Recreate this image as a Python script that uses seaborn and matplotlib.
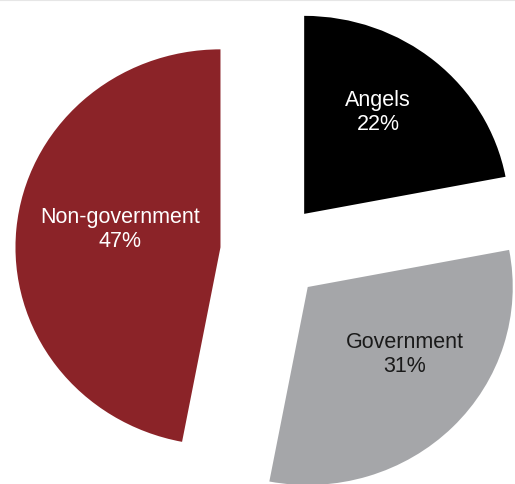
import numpy as np
import matplotlib
matplotlib.use("Agg")
import matplotlib.pyplot as plt
from matplotlib.lines import Line2D
import seaborn as sns

# Funding sources (share of total, %)
categories = ["Angels", "Government", "Non-government"]
shares = [22, 31, 47]

colors = ["#000000", "#a5a6a9", "#8b2328"]
text_colors = ["white", "#1a1a1a", "white"]

# label placement relative to each exploded wedge: radius fraction, angle turn (deg)
label_dist = [0.63, 0.58, 0.50]
label_turn = [4.6, 9.8, -5.6]

sns.set_theme(style="white")
plt.rcParams["font.family"] = ["Liberation Sans", "DejaVu Sans"]

W, H, DPI = 515, 485, 100
fig = plt.figure(figsize=(W / DPI, H / DPI), dpi=DPI)
ax = fig.add_axes([0, 0, 1, 1])

labels = [f"{c}\n{v}%" for c, v in zip(categories, shares)]
wedges, texts = ax.pie(
    shares,
    labels=labels,
    colors=colors,
    startangle=90,
    counterclock=False,
    explode=[0.25] * len(shares),
    radius=1.0,
    labeldistance=0.6,
    wedgeprops=dict(linewidth=0),
    textprops=dict(fontsize=15.5),
)

for w, t, d, da, tc in zip(wedges, texts, label_dist, label_turn, text_colors):
    ang = np.deg2rad((w.theta1 + w.theta2) / 2 + da)
    cx, cy = w.center
    t.set_position((cx + d * np.cos(ang), cy + d * np.sin(ang)))
    t.set_ha("center")
    t.set_va("center")
    t.set_multialignment("center")
    t.set_color(tc)

# view window: pie centre at (271.5, 253) px; slightly wider than tall
sx, sy = 205.0, 198.0
cx_px, cy_px = 271.5, 253.0
ax.set_xlim(-cx_px / sx, (W - cx_px) / sx)
ax.set_ylim(-(H - cy_px) / sy, cy_px / sy)
ax.set_aspect("auto")
ax.axis("off")

# faint rule along the top edge
fig.add_artist(Line2D([0, 1], [1 - 1.0 / H, 1 - 1.0 / H], transform=fig.transFigure,
                      color="#e6e6e6", linewidth=1.5))

fig.savefig("out.png", dpi=DPI, facecolor="white")
